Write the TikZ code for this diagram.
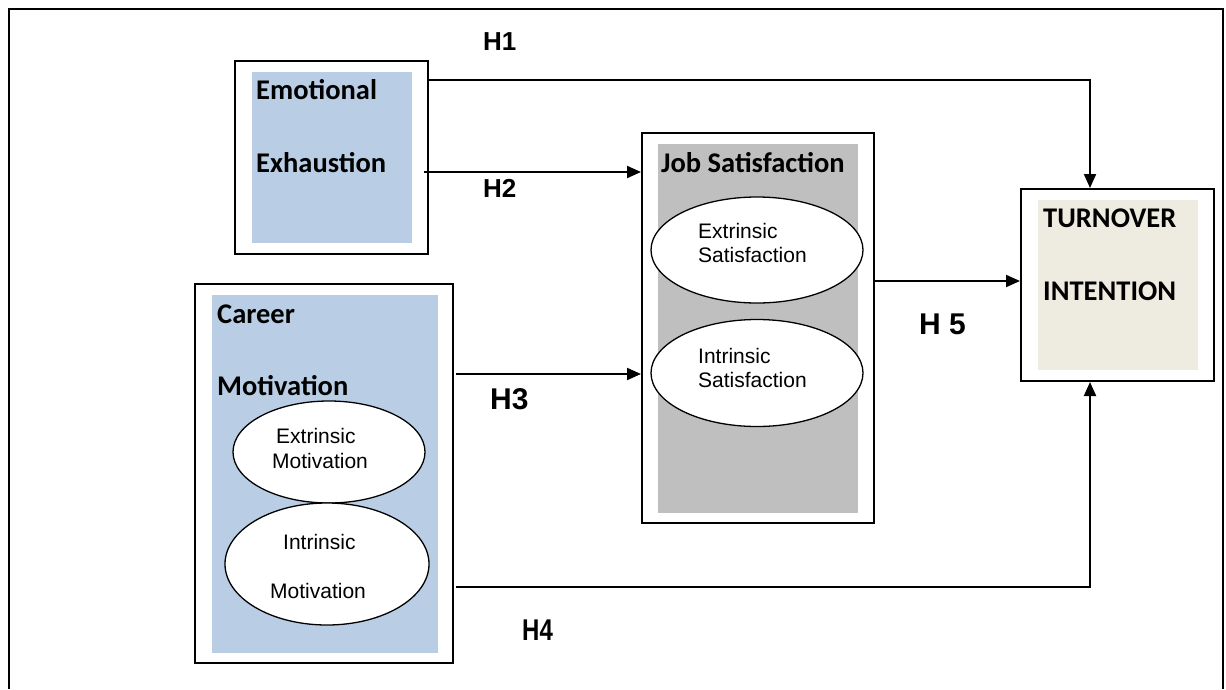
\documentclass[tikz,border=0pt]{standalone}
\usepackage{fontspec}
\usepackage{graphicx}
\setmainfont{Carlito}
\newfontfamily\arialf{Liberation Sans}
\usetikzlibrary{arrows.meta,shapes.geometric}
\definecolor{blueF}{HTML}{B9CDE5}
\definecolor{greyF}{HTML}{BFBFBF}
\definecolor{beigeF}{HTML}{EEECE1}
\begin{document}
\begin{tikzpicture}[x=1pt,y=-1pt,
 outerbox/.style={draw,line width=2pt,rectangle,inner sep=0pt,fill=white},
 fillbox/.style={rectangle,inner sep=0pt},
 title/.style={anchor=base west,inner sep=0pt,font=\bfseries\fontsize{28.5}{30}\selectfont},
 ell/.style={ellipse,draw,line width=1.3pt,fill=white,inner sep=0pt},
 etext/.style={anchor=base west,inner sep=0pt,font=\arialf\fontsize{21}{24}\selectfont},
 hlab/.style={anchor=base west,inner sep=0pt,font=\arialf\bfseries\fontsize{26}{28}\selectfont},
 hbig/.style={anchor=base west,inner sep=0pt,font=\arialf\bfseries\fontsize{30}{32}\selectfont},
 arr/.style={line width=2pt,-{Triangle[length=14pt,width=12pt]}},
 frame/.style={line width=2.5pt}]
\useasboundingbox (0,0) rectangle (1226,689);
\draw[frame] (9,689) -- (9,9) -- (1223,9) -- (1223,689);

% Emotional Exhaustion
\node[outerbox, minimum width=193pt, minimum height=193pt] (ee) at (331.5,157.5) {};
\node[fillbox, fill=blueF, minimum width=160pt, minimum height=171pt] (eein) at (332,157.5) {};
\node[title] (eet1) at (256,99) {Emotional};
\node[title] (eet2) at (256,172) {Exhaustion};

% Job Satisfaction
\node[outerbox, minimum width=232pt, minimum height=390pt] (js) at (758,328) {};
\node[fillbox, fill=greyF, minimum width=200pt, minimum height=369pt] (jsin) at (758,328.5) {};
\node[title] (jst) at (661,172) {Job Satisfaction};
\node[ell, minimum width=212pt, minimum height=106pt] (es) at (757,250) {};
\node[etext] (est1) at (698,238) {Extrinsic};
\node[etext] (est2) at (698,262) {Satisfaction};
\node[ell, minimum width=212pt, minimum height=107pt] (is) at (757,373) {};
\node[etext] (ist1) at (698,363) {Intrinsic};
\node[etext] (ist2) at (698,387) {Satisfaction};

% Turnover Intention
\node[outerbox, minimum width=193pt, minimum height=192pt] (ti) at (1117.5,285) {};
\node[fillbox, fill=beigeF, minimum width=160pt, minimum height=170pt] (tiin) at (1118,285) {};
\node[title] (tit1) at (1043,227) {TURNOVER};
\node[title] (tit2) at (1043,300) {INTENTION};

% Career Motivation
\node[outerbox, minimum width=258pt, minimum height=379pt] (cm) at (324,473.5) {};
\node[fillbox, fill=blueF, minimum width=226pt, minimum height=358pt] (cmin) at (325,474) {};
\node[title] (cmt1) at (217,323) {Career};
\node[title] (cmt2) at (217,395) {Motivation};
\node[ell, minimum width=192pt, minimum height=102pt] (em) at (329,452) {};
\node[etext] (emt1) at (276,443) {Extrinsic};
\node[etext] (emt2) at (272,468) {Motivation};
\node[ell, minimum width=204pt, minimum height=122pt] (im) at (327,564) {};
\node[etext] (imt1) at (283,549) {Intrinsic};
\node[etext] (imt2) at (270,598) {Motivation};

% connectors
\coordinate (h1s) at (428,80);
\draw[arr] (h1s) -| ([xshift=-27.5pt]ti.north);
\coordinate (h2s) at (424,172);
\draw[arr] (h2s) -- (h2s -| js.west);
\coordinate (h3s) at (456,374);
\draw[arr] (h3s) -- (h3s -| js.west);
\coordinate (h4s) at (456,587);
\draw[arr] (h4s) -| ([xshift=-27.5pt]ti.south);
\coordinate (h5s) at ([yshift=47pt]js.east);
\draw[arr] (h5s) -- (h5s -| ti.west);

% labels
\node[hlab] (l1) at (483,50) {H1};
\node[hlab] (l2) at (483,197) {H2};
\node[hbig] (l3) at (490,409) {H3};
\node[hbig] (l4) at (522,640) {\scalebox{0.8}[1]{H4}};
\node[hbig] (l5) at (919,334) {H 5};
\end{tikzpicture}
\end{document}
